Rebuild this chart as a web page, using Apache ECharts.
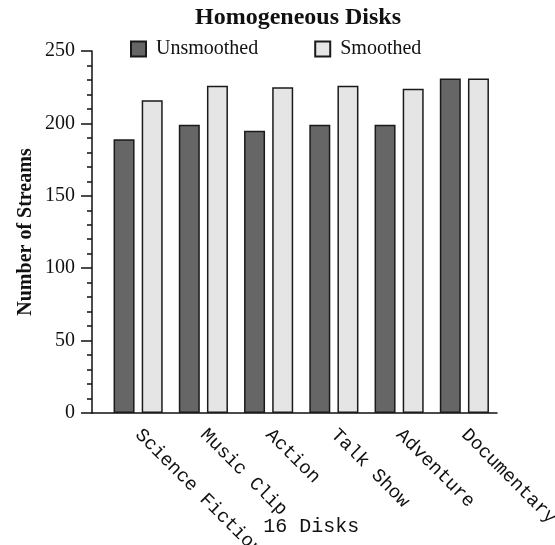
<!DOCTYPE html>
<html>
<head>
<meta charset="utf-8">
<script src="https://cdn.jsdelivr.net/npm/echarts@6/dist/echarts.min.js"></script>
<style>
html,body{margin:0;padding:0;background:#fff;}
#chart{width:555px;height:545px;}
</style>
</head>
<body>
<div id="chart"></div>
<script>
var categories = ['Science Fiction', 'Music Clip', 'Action', 'Talk Show', 'Adventure', 'Documentary'];
var unsmoothed = [189, 199, 195, 199, 199, 231];
var smoothed = [216, 226, 225, 226, 224, 231];
var seriesNames = ['Unsmoothed', 'Smoothed'];
var titleText = 'Homogeneous Disks';
var yAxisTitle = 'Number of Streams';
var xAxisTitle = '16 Disks';

var serif = '"Times New Roman", "Liberation Serif", serif';
var mono = '"Courier New", "Liberation Mono", monospace';

var chart = echarts.init(document.getElementById('chart'), null, {renderer: 'canvas'});
var option = {
  backgroundColor: '#ffffff',
  animation: false,
  title: {
    text: titleText,
    left: 190,
    top: 1,
    textStyle: {fontFamily: serif, fontWeight: 'bold', fontSize: 24, color: '#111'}
  },
  legend: {
    data: seriesNames,
    left: 125,
    top: 34,
    itemWidth: 15,
    itemHeight: 15,
    itemGap: 56,
    icon: 'rect',
    textStyle: {fontFamily: serif, fontSize: 20, color: '#111', padding: [0, 0, 0, 5]}
  },
  grid: [
    {left: 92, right: 58, top: 51, bottom: 132, containLabel: false, outerBoundsMode: 'none'},
    {left: 105.5, right: 58, top: 51, bottom: 132, containLabel: false, outerBoundsMode: 'none'}
  ],
  xAxis: [
    {
      gridIndex: 0, type: 'category', data: [''],
      axisLine: {show: true, lineStyle: {color: '#111', width: 1.5}},
      axisTick: {show: false}, axisLabel: {show: false}, splitLine: {show: false}
    },
    {
      gridIndex: 1, type: 'category', data: categories,
      axisLine: {show: false}, axisTick: {show: false},
      axisLabel: {rotate: -45, margin: 19, fontFamily: mono, fontSize: 19, color: '#111', interval: 0},
      name: xAxisTitle, nameLocation: 'middle', nameGap: 104, nameMoveOverlap: false,
      nameTextStyle: {fontFamily: mono, fontSize: 20, color: '#111', padding: [0, 0, 0, 20]}
    }
  ],
  yAxis: [
    {
      gridIndex: 0, type: 'value', min: 0, max: 250, interval: 50,
      axisLine: {show: true, lineStyle: {color: '#111', width: 1.5}},
      axisTick: {show: true, length: 11, lineStyle: {color: '#111', width: 1.5}},
      minorTick: {show: true, splitNumber: 5, length: 5, lineStyle: {color: '#111', width: 1.5}},
      splitLine: {show: false},
      axisLabel: {fontFamily: serif, fontSize: 20, color: '#111', margin: 17},
      name: yAxisTitle, nameLocation: 'middle', nameGap: 56, nameMoveOverlap: false,
      nameTextStyle: {fontFamily: serif, fontWeight: 'bold', fontSize: 20, color: '#111'}
    },
    {
      gridIndex: 1, type: 'value', min: 0, max: 250, interval: 50, show: false
    }
  ],
  series: [
    {
      name: seriesNames[0], type: 'bar', xAxisIndex: 1, yAxisIndex: 1,
      data: unsmoothed, barWidth: 21, barGap: '34%',
      itemStyle: {color: '#666666', borderColor: '#1a1a1a', borderWidth: 1.5}
    },
    {
      name: seriesNames[1], type: 'bar', xAxisIndex: 1, yAxisIndex: 1,
      data: smoothed, barWidth: 21, barGap: '34%',
      itemStyle: {color: '#e5e5e5', borderColor: '#1a1a1a', borderWidth: 1.5}
    }
  ]
};
chart.setOption(option);
</script>
</body>
</html>
